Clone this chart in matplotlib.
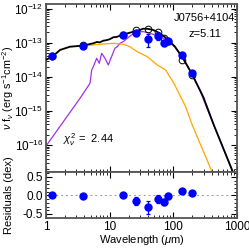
import matplotlib
matplotlib.use("Agg")
import matplotlib.pyplot as plt
from matplotlib.ticker import LogLocator, NullFormatter, MultipleLocator, FixedLocator, FixedFormatter
import numpy as np

plt.rcParams.update({
    "font.family": ["Liberation Sans", "DejaVu Sans"],
    "mathtext.fontset": "custom",
    "mathtext.rm": "Liberation Sans",
    "mathtext.it": "Liberation Sans:italic",
    "mathtext.bf": "Liberation Sans:bold",
    "font.size": 8,
    "axes.unicode_minus": False,
})

SPINE = "#555555"
BLUE = "#0000FF"
ORANGE = "#FFA500"
PURPLE = "#A030F0"

# observed photometry (micron, erg s^-1 cm^-2)
wave_obs = [1.26, 3.77, 16.0, 25.6, 40.4, 56.7, 71.9, 81.4, 138, 194]
flux_obs = [4.07e-14, 8.2e-14, 1.72e-13, 1.89e-13, 1.26e-13, 1.58e-13, 1.0e-13, 1.12e-13, 4.35e-14, 1.26e-14]
ferr_obs = [0, 0, 0, 0.35e-13, 0.5e-13, 0.35e-13, 0.2e-13, 0.2e-13, 0, 0]
# model photometry (open circles)
flux_mod = [4.07e-14, 8.3e-14, 1.72e-13, 2.42e-13, 2.45e-13, 2.0e-13, 1.40e-13, 1.12e-13, 3.11e-14, 1.13e-14]
# residuals (dex)
resid = [0.0, -0.02, 0.0, -0.15, -0.32, -0.10, -0.18, -0.02, 0.13, 0.07]
resid_err = [0, 0, 0, 0.10, 0.17, 0.11, 0.09, 0.09, 0, 0]

# total SED (black), log10 flux
tot_wave = [1.0, 1.256, 1.66, 2.38, 3.77, 5.52, 6.3, 7.0, 7.95, 8.8, 10.0, 11.4, 13.0, 16.0,
            20.8, 29.9, 33.6, 40.0, 48.4, 61.6, 81.2, 106, 142, 194, 261, 294, 432, 889, 1000]
tot_lf = [-13.50, -13.41, -13.214, -13.117, -13.088, -13.018, -12.98, -12.99, -12.941, -12.93,
          -12.90, -12.842, -12.83, -12.765, -12.707, -12.628, -12.59, -12.595, -12.628, -12.724,
          -12.90, -13.117, -13.457, -13.897, -14.387, -14.58, -15.41, -16.85, -17.1]
# AGN component (orange)
agn_wave = [1.0, 1.256, 1.66, 2.38, 3.85, 7.04, 11.4, 16.35, 20.8, 27.1, 38.9, 55.9, 75.7,
            102, 156, 198, 408, 500]
agn_lf = [-13.51, -13.42, -13.22, -13.126, -13.088, -13.047, -13.018, -13.047, -13.117, -13.264,
          -13.41, -13.654, -13.80, -14.19, -14.877, -15.41, -16.80, -17.2]
# host galaxy component (purple)
gal_wave = [1.0, 3.42, 4.91, 5.22, 5.53, 6.25, 6.87, 7.49, 8.44, 9.51, 10.7, 12.1, 13.2, 14.5,
            16.35, 18.9, 22.1, 26.5, 33.7, 42.9, 61.6, 78.5, 106, 142, 194, 261, 432, 889, 1000]
gal_lf = [-16.03, -14.63, -14.19, -13.80, -13.704, -13.457, -13.604, -13.311, -13.457, -13.654,
          -13.41, -13.164, -13.117, -13.018, -12.97, -12.871, -12.774, -12.677, -12.677, -12.724,
          -12.824, -12.921, -13.13, -13.47, -13.91, -14.40, -15.42, -16.86, -17.1]

fig = plt.figure(figsize=(2.49, 2.49), dpi=100)
W = 249.0
ax = fig.add_axes([46 / W, 1 - 172 / W, 191 / W, 168 / W])
axr = fig.add_axes([46 / W, 1 - 218 / W, 191 / W, 46 / W], sharex=ax)

def style(a):
    for s in a.spines.values():
        s.set_color(SPINE)
        s.set_linewidth(1.3)
    a.tick_params(which="both", direction="in", top=True, right=True, color="black",
                  labelsize=8.5, pad=2)
    a.tick_params(which="major", length=4, width=0.8)
    a.tick_params(which="minor", length=2, width=0.6)

ax.plot(gal_wave, 10 ** np.array(gal_lf), color=PURPLE, lw=0.9, zorder=2)
ax.plot(agn_wave, 10 ** np.array(agn_lf), color=ORANGE, lw=0.9, zorder=2)
ax.plot(tot_wave, 10 ** np.array(tot_lf), color="black", lw=1.3, zorder=3)
ax.plot(wave_obs, flux_mod, "o", mfc="none", mec="black", ms=4.8, mew=0.7, zorder=4)
ax.errorbar(wave_obs, flux_obs, yerr=ferr_obs, fmt="o", color=BLUE, ms=5, elinewidth=0.9,
            capsize=1.5, capthick=0.9, zorder=5)

ax.set_xscale("log")
ax.set_yscale("log")
ax.set_xlim(1, 1000)
ax.set_ylim(1.62e-17, 1.36e-12)
ax.yaxis.set_major_locator(FixedLocator([1e-16, 1e-15, 1e-14, 1e-13, 1e-12]))
ax.yaxis.set_minor_locator(LogLocator(base=10, subs=np.arange(2, 10), numticks=20))
ax.yaxis.set_minor_formatter(NullFormatter())
plt.setp(ax.get_xticklabels(), visible=False)
style(ax)
ax.set_ylabel(r"$\nu$ f$_\nu$ (erg s$^{-1}$cm$^{-2}$)", fontsize=7.8)
ax.yaxis.set_label_coords(-0.155, 0.5)

ax.text(0.99, 0.915, "J0756+4104", transform=ax.transAxes, ha="right", va="center", fontsize=8)
ax.text(0.83, 0.82, "z=5.11", transform=ax.transAxes, ha="center", va="center", fontsize=8)
ax.text(0.09, 0.195, r"$\chi^2_\nu$ =  2.44", transform=ax.transAxes, ha="left", va="center",
        fontsize=8)

axr.axhline(0, color="#999999", lw=0.7, ls=(0, (2, 3)), zorder=1)
axr.errorbar(wave_obs, resid, yerr=resid_err, fmt="o", color=BLUE, ms=5, elinewidth=0.9,
             capsize=1.5, capthick=0.9, zorder=5)
axr.set_ylim(-0.61, 0.63)
axr.yaxis.set_major_locator(FixedLocator([-0.5, 0.0, 0.5]))
axr.yaxis.set_major_formatter(FixedFormatter(["-0.5", "0.0", "0.5"]))
axr.yaxis.set_minor_locator(MultipleLocator(0.1))
axr.xaxis.set_major_locator(FixedLocator([1, 10, 100, 1000]))
axr.xaxis.set_major_formatter(FixedFormatter(["1", "10", "100", "1000"]))
axr.xaxis.set_minor_locator(LogLocator(base=10, subs=np.arange(2, 10), numticks=20))
axr.xaxis.set_minor_formatter(NullFormatter())
style(axr)
axr.set_ylabel("Residuals (dex)", fontsize=8)
axr.yaxis.set_label_coords(-0.165, 0.5)
axr.set_xlabel(r"Wavelength ($\mu$m)", fontsize=8, labelpad=0)

fig.savefig("out.png", dpi=100)
